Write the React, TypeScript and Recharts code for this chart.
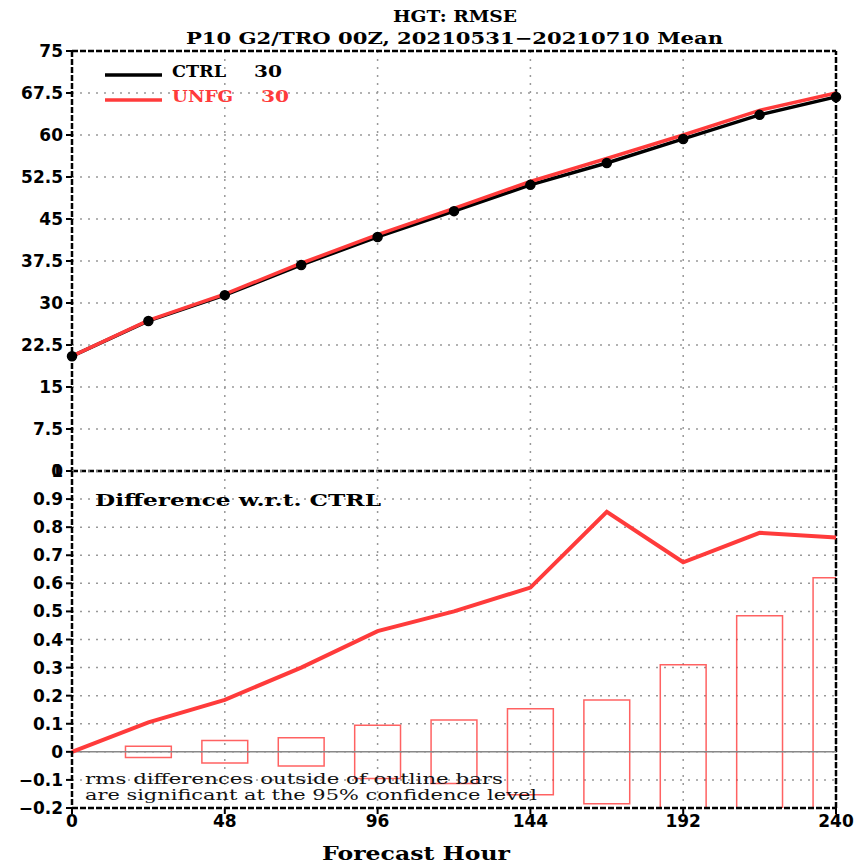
import {
  LineChart, Line, XAxis, YAxis, CartesianGrid, ReferenceLine, ReferenceArea,
} from 'recharts'

// forecast hours and RMSE values
const HOURS = [0, 24, 48, 72, 96, 120, 144, 168, 192, 216, 240]
const CTRL = [20.5, 26.8, 31.4, 36.8, 41.8, 46.4, 51.1, 55.0, 59.3, 63.6, 66.8]
const UNFG = [20.5, 26.9, 31.6, 37.1, 42.2, 46.9, 51.7, 55.8, 60.0, 64.4, 67.5]
const DIFF = [0, 0.105, 0.185, 0.3, 0.43, 0.5, 0.585, 0.855, 0.675, 0.78, 0.763]

// 95% significance half-widths (outline bars)
const SIG_HOURS = [24, 48, 72, 96, 120, 144, 168, 192, 216, 240]
const SIG = [0.02, 0.04, 0.05, 0.095, 0.113, 0.153, 0.185, 0.31, 0.485, 0.62]
const BAR_HALF = 7.2

const X_TICKS = [0, 48, 96, 144, 192, 240]
const TOP_TICKS = [0, 7.5, 15, 22.5, 30, 37.5, 45, 52.5, 60, 67.5, 75]
const BOT_TICKS = [-0.2, -0.1, 0, 0.1, 0.2, 0.3, 0.4, 0.5, 0.6, 0.7, 0.8, 0.9, 1]

const RED = '#ff3b3b'
const FRAME = { stroke: '#000', strokeWidth: 2.5, strokeDasharray: '6 2' }
const TICK_FONT = { fill: '#000', fontSize: 17, fontWeight: 700, fontFamily: 'DejaVu Sans' }

const rmseRows = HOURS.map((h, i) => ({ h, ctrl: CTRL[i], unfg: UNFG[i] }))
const diffRows = HOURS.map((h, i) => ({ h, diff: DIFF[i] }))

const fmtBot = (v: number) => (v < 0 ? `\u2212${Math.abs(v)}` : `${v}`)

export default function App() {
  return (
    <div style={{ position: 'absolute', left: 0, top: 0, width: 859, height: 863, background: '#fff' }}>
      {/* RMSE panel */}
      <div style={{ position: 'absolute', left: 0, top: 0 }}>
        <LineChart width={859} height={480} data={rmseRows} margin={{ top: 51, right: 23, bottom: 9, left: 0 }}>
          <CartesianGrid stroke="#999" strokeWidth={1.5} strokeDasharray="2 6" />
          <XAxis dataKey="h" type="number" domain={[0, 240]} ticks={X_TICKS} hide />
          <YAxis
            type="number"
            domain={[0, 75]}
            ticks={TOP_TICKS}
            width={72}
            tick={TICK_FONT}
            tickSize={6}
            tickMargin={3}
            axisLine={FRAME}
            tickLine={{ stroke: '#000', strokeWidth: 2 }}
            interval={0}
          />
          <ReferenceLine y={75} {...FRAME} />
          <ReferenceLine y={0} {...FRAME} />
          <ReferenceLine x={240} {...FRAME} />
          <Line
            dataKey="ctrl"
            stroke="#000"
            strokeWidth={3.5}
            dot={{ r: 4.5, stroke: '#000', strokeWidth: 1.5, fill: '#000' }}
            isAnimationActive={false}
          />
          <Line dataKey="unfg" stroke={RED} strokeWidth={3.5} dot={false} isAnimationActive={false} />
        </LineChart>
      </div>

      {/* difference panel */}
      <div style={{ position: 'absolute', left: 0, top: 460 }}>
        <LineChart width={859} height={403} data={diffRows} margin={{ top: 11, right: 23, bottom: 0, left: 0 }}>
          <CartesianGrid stroke="#999" strokeWidth={1.5} strokeDasharray="2 6" />
          <XAxis
            dataKey="h"
            type="number"
            domain={[0, 240]}
            ticks={X_TICKS}
            height={55}
            tick={TICK_FONT}
            tickSize={6}
            tickMargin={1}
            axisLine={FRAME}
            tickLine={{ stroke: '#000', strokeWidth: 2 }}
          />
          <YAxis
            type="number"
            domain={[-0.2, 1]}
            ticks={BOT_TICKS}
            width={72}
            tick={TICK_FONT}
            tickFormatter={fmtBot}
            tickSize={6}
            tickMargin={3}
            axisLine={FRAME}
            tickLine={{ stroke: '#000', strokeWidth: 2 }}
            interval={0}
          />
          <ReferenceLine x={240} {...FRAME} />
          <ReferenceLine y={0} stroke="#888" strokeWidth={1.5} />
          {SIG_HOURS.map((h, i) => (
            <ReferenceArea
              key={h}
              x1={h - BAR_HALF}
              x2={h + BAR_HALF}
              y1={-SIG[i]}
              y2={SIG[i]}
              fill="none"
              fillOpacity={0}
              stroke={RED}
              strokeOpacity={0.8}
              strokeWidth={1.5}
              ifOverflow="hidden"
            />
          ))}
          <Line dataKey="diff" stroke={RED} strokeWidth={4} dot={false} isAnimationActive={false} />
        </LineChart>
      </div>

      {/* titles, legend and notes */}
      <svg
        width={859}
        height={863}
        style={{ position: 'absolute', left: 0, top: 0, pointerEvents: 'none' }}
        fontFamily="DejaVu Serif"
      >
        <text x={393} y={22} fontSize={16} fontWeight={700} textLength={124} lengthAdjust="spacingAndGlyphs">
          HGT: RMSE
        </text>
        <text x={186} y={44} fontSize={16} fontWeight={700} textLength={537} lengthAdjust="spacingAndGlyphs">
          P10 G2/TRO 00Z, 20210531{'\u2212'}20210710 Mean
        </text>

        <line x1={105} x2={162} y1={75} y2={75} stroke="#000" strokeWidth={3.5} />
        <text x={172} y={77} fontSize={17} fontWeight={700} textLength={54} lengthAdjust="spacingAndGlyphs">CTRL</text>
        <text x={254} y={77} fontSize={17} fontWeight={700} textLength={28} lengthAdjust="spacingAndGlyphs">30</text>
        <line x1={105} x2={162} y1={100} y2={100} stroke={RED} strokeWidth={3.5} />
        <text x={172} y={102} fontSize={17} fontWeight={700} fill={RED} textLength={61} lengthAdjust="spacingAndGlyphs">UNFG</text>
        <text x={261} y={102} fontSize={17} fontWeight={700} fill={RED} textLength={28} lengthAdjust="spacingAndGlyphs">30</text>

        <text x={95} y={506} fontSize={17} fontWeight={700} textLength={286} lengthAdjust="spacingAndGlyphs">
          Difference w.r.t. CTRL
        </text>

        <text x={85} y={784} fontSize={14} fill="#111" textLength={418} lengthAdjust="spacingAndGlyphs">
          rms differences outside of outline bars
        </text>
        <text x={85} y={800} fontSize={14} fill="#111" textLength={452} lengthAdjust="spacingAndGlyphs">
          are significant at the 95% confidence level
        </text>

        <text x={322} y={860} fontSize={18} fontWeight={700} textLength={188} lengthAdjust="spacingAndGlyphs">
          Forecast Hour
        </text>
      </svg>
    </div>
  )
}
